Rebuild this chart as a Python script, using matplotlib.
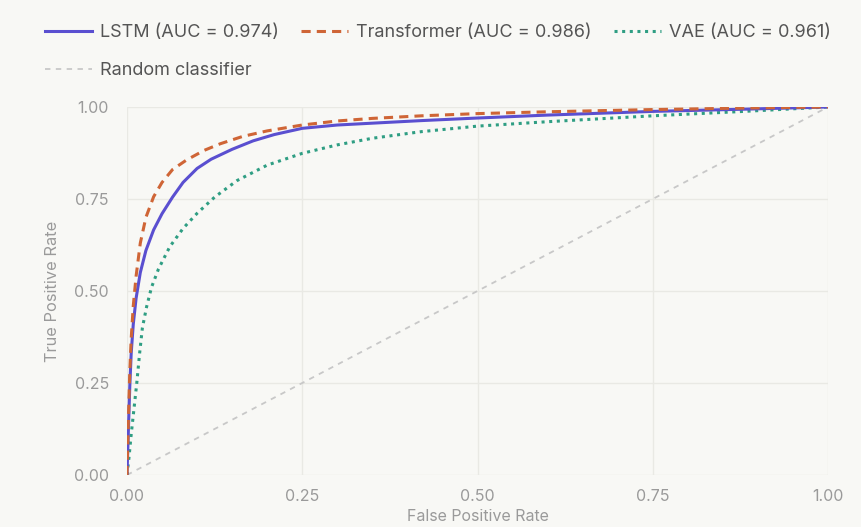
import matplotlib
matplotlib.use("Agg")
import matplotlib.pyplot as plt

plt.rcParams['font.family'] = ['Inter', 'DejaVu Sans']

# ---- data ----
lstm_fpr = [0, 0.002, 0.004, 0.006, 0.009, 0.013, 0.019, 0.027, 0.038, 0.05, 0.065, 0.08, 0.10, 0.12,
            0.15, 0.18, 0.21, 0.25, 0.30, 0.35, 0.42, 0.50, 0.60, 0.75, 0.88, 1.0]
lstm_tpr = [0, 0.12, 0.24, 0.33, 0.41, 0.48, 0.55, 0.61, 0.666, 0.71, 0.755, 0.795, 0.833, 0.858,
            0.885, 0.908, 0.925, 0.942, 0.951, 0.956, 0.963, 0.970, 0.978, 0.988, 0.994, 1.0]

trf_fpr = [0, 0.002, 0.004, 0.006, 0.009, 0.013, 0.019, 0.027, 0.038, 0.05, 0.065, 0.085, 0.11, 0.133,
           0.165, 0.20, 0.25, 0.30, 0.35, 0.42, 0.50, 0.60, 0.75, 0.88, 1.0]
trf_tpr = [0, 0.15, 0.28, 0.37, 0.46, 0.54, 0.63, 0.70, 0.756, 0.795, 0.83, 0.856, 0.882, 0.90,
           0.92, 0.935, 0.951, 0.962, 0.969, 0.976, 0.982, 0.987, 0.993, 0.997, 1.0]

vae_fpr = [0, 0.003, 0.006, 0.010, 0.014, 0.018, 0.022, 0.028, 0.035, 0.045, 0.061, 0.08, 0.10, 0.125,
           0.157, 0.20, 0.25, 0.30, 0.35, 0.42, 0.50, 0.60, 0.75, 0.88, 1.0]
vae_tpr = [0, 0.05, 0.11, 0.18, 0.25, 0.33, 0.40, 0.457, 0.51, 0.56, 0.62, 0.67, 0.711, 0.755,
           0.80, 0.842, 0.874, 0.897, 0.915, 0.933, 0.948, 0.960, 0.976, 0.988, 1.0]

rand_x = [0, 1]
rand_y = [0, 1]

labels = ["LSTM (AUC = 0.974)", "Transformer (AUC = 0.986)", "VAE (AUC = 0.961)", "Random classifier"]
ticks = [0.0, 0.25, 0.5, 0.75, 1.0]
tick_labels = ["0.00", "0.25", "0.50", "0.75", "1.00"]

bg = '#f8f8f5'
grid_c = '#e9e9e4'
txt_c = '#9a9a9a'

fig = plt.figure(figsize=(8.62, 5.27), dpi=100, facecolor=bg)
ax = fig.add_axes([0.1473, 0.0987, 0.8133, 0.6983], facecolor=bg)

h_l, = ax.plot(lstm_fpr, lstm_tpr, color='#5a4fd0', lw=2.2, ls='-', label=labels[0], zorder=4)
h_t, = ax.plot(trf_fpr, trf_tpr, color='#cf6536', lw=2.2, ls=(0, (3, 2)), label=labels[1], zorder=5)
h_v, = ax.plot(vae_fpr, vae_tpr, color='#2f9e83', lw=2.2, ls=(0, (1, 1.5)), label=labels[2], zorder=3)
h_r, = ax.plot(rand_x, rand_y, color='#c8c8c8', lw=1.3, ls=(0, (3, 3)), label=labels[3], zorder=2)

ax.set_xlim(0, 1.0)
ax.set_ylim(0, 1.0)
ax.set_xticks(ticks)
ax.set_xticklabels(tick_labels)
ax.set_yticks(ticks)
ax.set_yticklabels(tick_labels)
ax.grid(True, color=grid_c, lw=1)
ax.set_axisbelow(True)
for s in ax.spines.values():
    s.set_visible(False)
ax.tick_params(axis='y', length=0, colors=txt_c, labelsize=11.5, pad=13)
ax.tick_params(axis='x', length=0, colors=txt_c, labelsize=11.5, pad=10)
ax.set_xlabel("False Positive Rate", color=txt_c, fontsize=11.5, labelpad=4)
ax.set_ylabel("True Positive Rate", color=txt_c, fontsize=11.8, labelpad=10)

handles = [h_l, h_r, h_t, h_v]
leg = fig.legend(handles, [h.get_label() for h in handles],
                 loc='upper left', bbox_to_anchor=(0.033, 0.985), ncol=3, frameon=False,
                 fontsize=13, handlelength=2.6, columnspacing=1.25, labelspacing=1.15,
                 handletextpad=0.45)
for t in leg.get_texts():
    t.set_color('#555555')

fig.savefig("out.png", dpi=100, facecolor=bg)
